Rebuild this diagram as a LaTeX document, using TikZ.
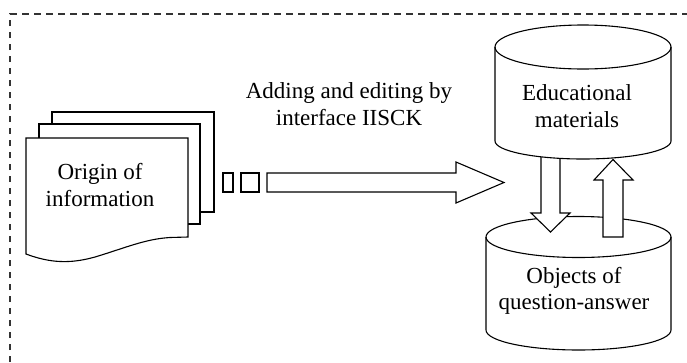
\documentclass[tikz,border=0pt]{standalone}
\usepackage{fontspec}
\setmainfont{Liberation Serif}
\begin{document}
\begin{tikzpicture}[x=1pt,y=-1pt,
  outline/.style={draw=black,line width=1.1pt,fill=white,line join=miter},
  edge/.style={draw=black,line width=1.1pt},
  frame/.style={draw=black!80,line width=1.2pt,dash pattern=on 6.5pt off 5.5pt},
  lbl/.style={font=\fontsize{23}{26.5}\selectfont,align=center,inner sep=0pt}]
\useasboundingbox (0,0) rectangle (687,362);

% dashed system boundary (open to the right and bottom)
\draw[frame] (10,362) -- (10,14) -- (687,14);

% stack of source documents
\path[outline] (52,112) rectangle (214,212);
\path[outline] (39,124) rectangle (200,224);
\path[outline] (26,138) -- (188,138) -- (188,237) -- (170,237.5)
  .. controls (145,239) and (125,248) .. (95,257)
  .. controls (70,264) and (50,263) .. (26,254) -- cycle;
\node[lbl] (origin) at (100,185) {Origin of\\information};

% dotted start and block arrow towards the storage
\path[outline] (223,173) rectangle (233,192);
\path[outline] (241,173) rectangle (259,192);
\path[outline] (267,173) -- (456,173) -- (456,162) -- (504,182.5)
  -- (456,203) -- (456,192) -- (267,192) -- cycle;
\node[lbl] (iface) at (349,104) {Adding and editing by\\interface IISCK};

% lower cylinder
\path[outline] (486,237) -- (486,330)
  arc[start angle=180,end angle=360,x radius=92.5pt,y radius=20pt]
  -- (671,237)
  arc[start angle=0,end angle=180,x radius=92.5pt,y radius=20.5pt] -- cycle;
\draw[edge] (486,237) arc[start angle=180,end angle=360,x radius=92.5pt,y radius=20.5pt];
\node[lbl] (qa) at (574,291) {Objects of\\question-answer};

% exchange arrows between the two stores
\path[outline] (541,150) -- (541,213) -- (531,213) -- (550.5,232)
  -- (570,213) -- (560,213) -- (560,150) -- cycle;
\path[outline] (603,237) -- (603,180) -- (594,180) -- (613,159.5)
  -- (633,180) -- (623,180) -- (623,237) -- cycle;

% upper cylinder
\path[outline] (495,47) -- (495,141)
  arc[start angle=180,end angle=360,x radius=88pt,y radius=18pt]
  -- (671,47)
  arc[start angle=0,end angle=180,x radius=88pt,y radius=22pt] -- cycle;
\draw[edge] (495,47) arc[start angle=180,end angle=360,x radius=88pt,y radius=22pt];
\node[lbl] (edu) at (577,106) {Educational\\materials};
\end{tikzpicture}
\end{document}
